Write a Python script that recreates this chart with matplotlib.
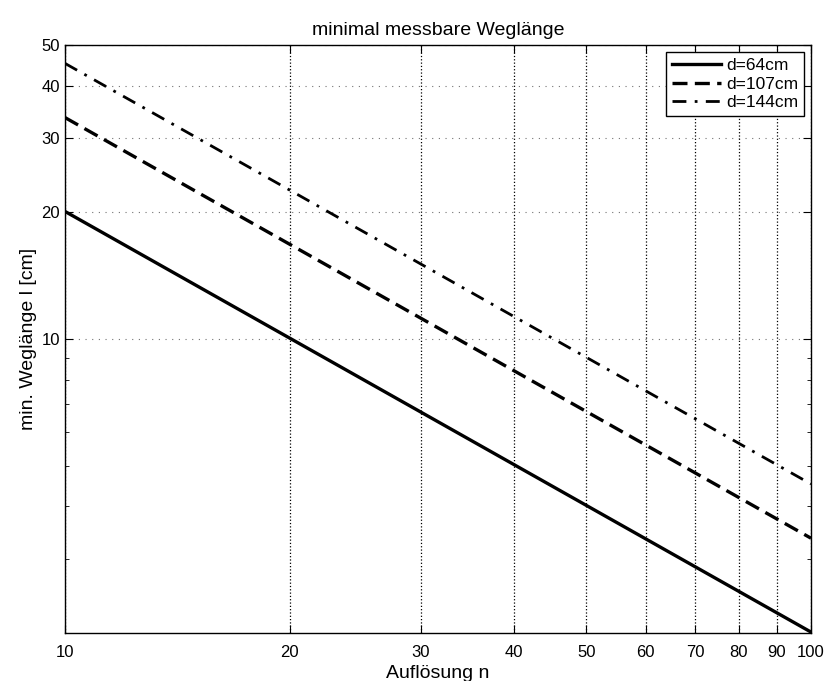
import matplotlib.pyplot as plt
from matplotlib.ticker import FixedLocator, NullFormatter, FixedFormatter

plt.rcParams['font.family'] = ['Liberation Sans', 'DejaVu Sans']

# resolution n (endpoints of the straight log-log lines)
n = [10, 100]
l_64 = [20.1, 2.01]
l_107 = [33.6, 3.36]
l_144 = [45.2, 4.52]
labels = ['d=64cm', 'd=107cm', 'd=144cm']

x_ticks = [10, 20, 30, 40, 50, 60, 70, 80, 90, 100]
y_ticks = [10, 20, 30, 40, 50]

fig = plt.figure(figsize=(8.29, 6.81), dpi=100)
ax = fig.add_axes([0.0784, 0.0705, 0.8999, 0.8635])

ax.loglog(n, l_64, 'k-', lw=2.4, label=labels[0])
ax.loglog(n, l_107, 'k--', lw=2.4, dashes=(4.5, 2.2), label=labels[1])
ax.loglog(n, l_144, 'k-.', lw=2.0, dashes=(5, 3, 1, 3), label=labels[2])

ax.set_xlim(10, 100)
ax.set_ylim(2, 50)

ax.xaxis.set_major_locator(FixedLocator(x_ticks))
ax.xaxis.set_major_formatter(FixedFormatter([str(t) for t in x_ticks]))
ax.xaxis.set_minor_locator(FixedLocator([]))
ax.yaxis.set_major_locator(FixedLocator(y_ticks))
ax.yaxis.set_major_formatter(FixedFormatter([str(t) for t in y_ticks]))
ax.yaxis.set_minor_locator(FixedLocator([2, 3, 4, 5, 6, 7, 8, 9]))
ax.yaxis.set_minor_formatter(NullFormatter())

ax.tick_params(which='both', direction='in', top=True, right=True, labelsize=12)
ax.tick_params(which='major', length=6)
ax.tick_params(which='minor', length=3)
ax.tick_params(axis='x', pad=9)

# vertical grid darker than horizontal, like the original
ax.xaxis.grid(True, which='major', linestyle=':', color='k', lw=0.9)
ax.yaxis.grid(True, which='major', linestyle=(0, (1, 5)), color='0.45', lw=0.8)

for s in ax.spines.values():
    s.set_linewidth(1.0)

ax.set_title('minimal messbare Weglänge', fontsize=14, pad=7)
ax.set_xlabel('Auflösung n', fontsize=14, labelpad=3)
ax.set_ylabel('min. Weglänge l [cm]', fontsize=14, labelpad=3)

leg = ax.legend(loc='upper right', fontsize=12.5, fancybox=False, framealpha=1,
                edgecolor='k', handlelength=2.8, borderpad=0.35, labelspacing=0.2,
                handletextpad=0.3, borderaxespad=0.4)
leg.get_frame().set_linewidth(1.0)

fig.savefig('out.png', dpi=100)
